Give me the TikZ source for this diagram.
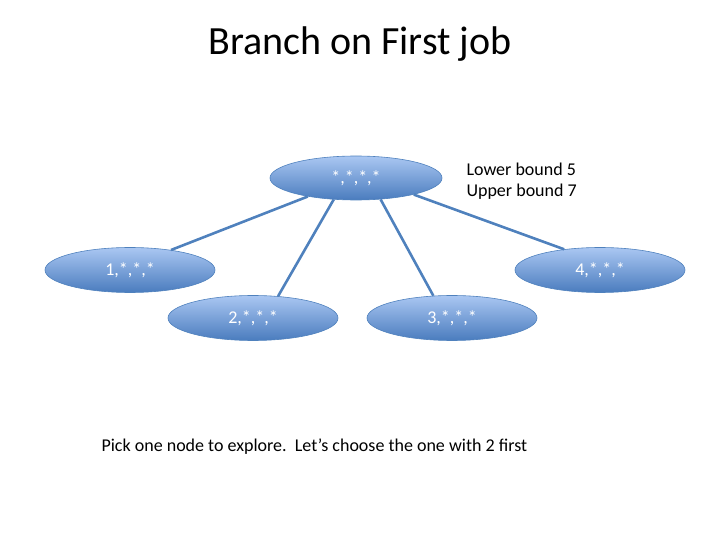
\documentclass[tikz,border=0pt]{standalone}
\usepackage{fontspec}
\setmainfont{Carlito}
\usetikzlibrary{shapes.geometric}

\definecolor{nodetop}{RGB}{170,199,242}
\definecolor{nodebot}{RGB}{74,124,190}
\definecolor{edgeblue}{RGB}{79,129,189}

\begin{document}
\begin{tikzpicture}[x=1pt, y=-1pt,
                    main node/.style={ellipse,draw=edgeblue,line width=0.6pt,top color=nodetop,bottom color=nodebot,
                    minimum width=170pt,minimum height=45pt,inner sep=0pt,text=white,font=\fontsize{18}{20}\selectfont},
                    tree edge/.style={draw=edgeblue,line width=2.6pt}]

  \useasboundingbox (0,0) rectangle (720,540);

  \node (title) at (360,44) {\fontsize{40}{44}\selectfont Branch on First job};

  \node[main node,minimum width=172pt,minimum height=44pt] (0) at (356,178) {*,*,*,*};
  \node[main node] (1) at (130,270) {1,*,*,*};
    \node[main node] (4) at (600,270) {4,*,*,*};
      \node[main node] (2) at (253,318) {2,*,*,*};
        \node[main node] (3) at (452,318) {3,*,*,*};

  \node[align=left,anchor=west,font=\fontsize{18}{21.5}\selectfont] (bounds) at (463,181) {Lower bound 5\\Upper bound 7};

  \draw[tree edge] (0.201) -- (1.26);
  \draw[tree edge] (0.224) -- (2.41);
  \draw[tree edge] (0.319) -- (3.130);
  \draw[tree edge] (0.344) -- (4.150);

  \node[anchor=west,font=\fontsize{18}{20}\selectfont] (note) at (98,447) {Pick one node to explore.\ \ Let’s choose the one with 2 first};

\end{tikzpicture}
\end{document}
